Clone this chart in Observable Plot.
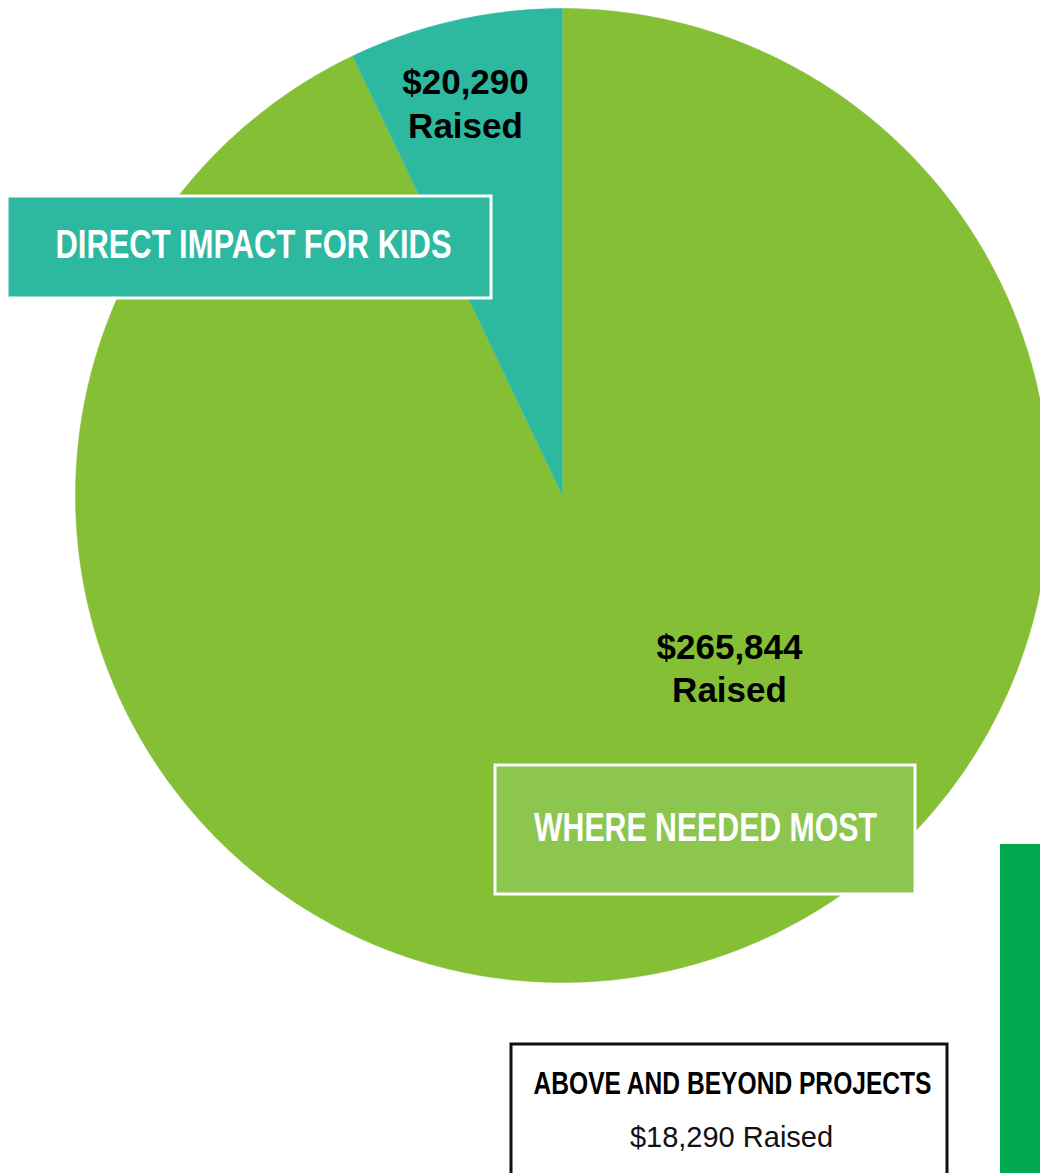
<!DOCTYPE html>
<html><head><meta charset="utf-8">
<script src="https://cdn.jsdelivr.net/npm/d3@7"></script>
<script src="https://cdn.jsdelivr.net/npm/@observablehq/plot@0.6"></script>
<style>html,body{margin:0;padding:0;background:#fff;overflow:hidden}</style>
</head><body><div id="chart"></div>
<script>
// ---- data ----
const categories = ["WHERE NEEDED MOST", "DIRECT IMPACT FOR KIDS"];
const amounts = [265844, 20290];
const amountLines = [["$265,844", "Raised"], ["$20,290", "Raised"]];
const sideCategory = "ABOVE AND BEYOND PROJECTS";
const sideAmount = 18290;
const sideLabel = "$18,290 Raised";
const sliceColors = ["#84bf35", "#2cb9a0"];
const boxColors = ["#8cc64e", "#2cb9a0"];

// ---- layout (pixels) ----
const W = 1040, H = 1173;
const cx = 562, cy = 495, r = 487;
const amountPos = [{x: 729, y: [647, 690]}, {x: 465, y: [82, 126]}];
const boxPos = [
  {x1: 495, x2: 915, y1: 765, y2: 894, tx: 705, ty: 828, tw: 343},
  {x1: 7, x2: 491, y1: 196, y2: 298, tx: 253, ty: 245, tw: 396}
];

const arcs = d3.pie().sort(null)(amounts);
const piePoints = [];
arcs.forEach((a, i) => {
  piePoints.push({slice: categories[i], x: cx, y: cy});
  const n = Math.max(12, Math.ceil((a.endAngle - a.startAngle) * 150));
  for (let k = 0; k <= n; k++) {
    const t = a.startAngle + (a.endAngle - a.startAngle) * k / n;
    piePoints.push({slice: categories[i], x: cx + r * Math.sin(t), y: cy - r * Math.cos(t)});
  }
});

const amountText = [];
categories.forEach((c, i) => amountLines[i].forEach((s, j) =>
  amountText.push({x: amountPos[i].x, y: amountPos[i].y[j], text: s})));

const boxes = categories.map((c, i) => ({name: c, fill: boxColors[i], ...boxPos[i]}));
const sideBox = [{x1: 511, x2: 947, y1: 1044, y2: 1190}];
const sideText = [
  {x: 732, y: 1084, text: sideCategory, bold: true},
  {x: 731, y: 1137, text: sideLabel, bold: false}
];
const bar = [{x1: 1000, x2: 1050, y1: 844, y2: 1190}];

const marks = [];
categories.forEach((c, i) => {
  marks.push(Plot.line(piePoints.filter(d => d.slice === c), {
    x: "x", y: "y", fill: sliceColors[i], stroke: sliceColors[i], strokeWidth: 0.5, curve: "linear"
  }));
});
marks.push(
  Plot.text(amountText, {x: "x", y: "y", text: "text", fill: "#000", fontSize: 35, fontWeight: "bold",
    fontFamily: "'Liberation Sans', Arial, sans-serif"}),
  Plot.rect(boxes, {x1: "x1", x2: "x2", y1: "y1", y2: "y2", fill: "fill", stroke: "#fff", strokeWidth: 3}),
  Plot.text(boxes, {x: "tx", y: "ty", text: "name", fill: "#fff", fontSize: 40, fontWeight: "bold",
    fontFamily: "'Liberation Sans Narrow', 'Liberation Sans', Arial, sans-serif"}),
  Plot.rect(sideBox, {x1: "x1", x2: "x2", y1: "y1", y2: "y2", fill: "#fff", stroke: "#111", strokeWidth: 3}),
  Plot.text(sideText.filter(d => d.bold), {x: "x", y: "y", text: "text", fill: "#000", fontSize: 31, fontWeight: "bold",
    fontFamily: "'Liberation Sans Narrow', 'Liberation Sans', Arial, sans-serif"}),
  Plot.text(sideText.filter(d => !d.bold), {x: "x", y: "y", text: "text", fill: "#111", fontSize: 29,
    fontFamily: "'Liberation Sans', Arial, sans-serif"}),
  Plot.rect(bar, {x1: "x1", x2: "x2", y1: "y1", y2: "y2", fill: "#00a84f"})
);

const chart = Plot.plot({
  width: W, height: H,
  margin: 0,
  x: {domain: [0, W], range: [0, W], axis: null},
  y: {domain: [0, H], range: [0, H], axis: null},
  color: {type: "identity"},
  style: {background: "#fff", overflow: "hidden"},
  marks
});

const widths = {"DIRECT IMPACT FOR KIDS": 396, "WHERE NEEDED MOST": 343, "ABOVE AND BEYOND PROJECTS": 398};
d3.select(chart).selectAll("text").each(function() {
  const w = widths[this.textContent];
  if (w) { this.setAttribute("textLength", w); this.setAttribute("lengthAdjust", "spacingAndGlyphs"); }
});
document.getElementById("chart").appendChild(chart);
</script></body></html>
